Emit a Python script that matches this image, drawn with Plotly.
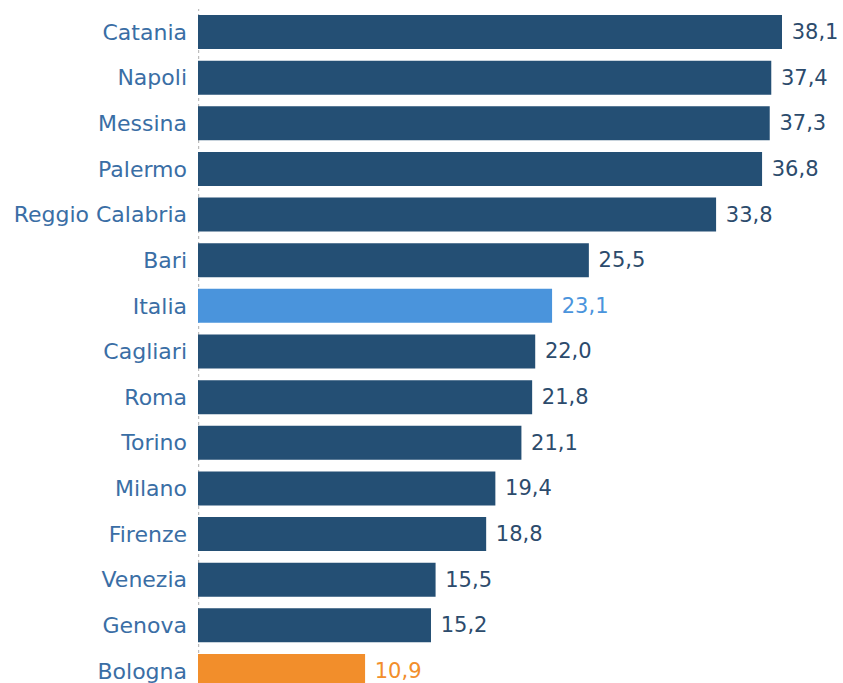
import plotly.graph_objects as go

cities = ["Catania", "Napoli", "Messina", "Palermo", "Reggio Calabria", "Bari", "Italia",
          "Cagliari", "Roma", "Torino", "Milano", "Firenze", "Venezia", "Genova", "Bologna"]
values = [38.1, 37.4, 37.3, 36.8, 33.8, 25.5, 23.1, 22.0, 21.8, 21.1, 19.4, 18.8, 15.5, 15.2, 10.9]

DARK = "#244f74"
ITALY = "#4a94dc"
BOLOGNA = "#f28e2b"

bar_colors = [ITALY if c == "Italia" else BOLOGNA if c == "Bologna" else DARK for c in cities]
text_colors = [ITALY if c == "Italia" else BOLOGNA if c == "Bologna" else "#2c4b6c" for c in cities]

fig = go.Figure(go.Bar(
    x=values, y=cities, orientation="h",
    marker=dict(color=bar_colors, line=dict(width=0)),
    width=0.745,
    text=[" " + f"{v:.1f}".replace(".", ",") for v in values],
    textposition="outside",
    textfont=dict(color=text_colors, size=21, family="DejaVu Sans"),
    cliponaxis=False,
    hoverinfo="skip",
))

fig.add_shape(type="line", xref="x", yref="paper", x0=0.03, x1=0.03, y0=0, y1=0.987,
              line=dict(color="#bdbdbd", width=1.5, dash="3px,3px"), layer="below")

fig.update_layout(
    width=843, height=683,
    margin=dict(l=198, r=0, t=0, b=0),
    plot_bgcolor="white", paper_bgcolor="white",
    showlegend=False,
    xaxis=dict(range=[0, 645 / 15.328], visible=False, showgrid=False, zeroline=False),
    yaxis=dict(range=[14.263, -0.701], showgrid=False, zeroline=False, showline=False,
               ticks="", ticklabelstandoff=10,
               tickfont=dict(color="#3a6ea5", size=22, family="DejaVu Sans")),
)

fig.write_html("out.html", config={"displayModeBar": False})
with open("out.html", encoding="utf-8") as f:
    html = f.read()
html = html.replace("<body>", '<body style="margin:0;padding:0;overflow:hidden">', 1)
with open("out.html", "w", encoding="utf-8") as f:
    f.write(html)
